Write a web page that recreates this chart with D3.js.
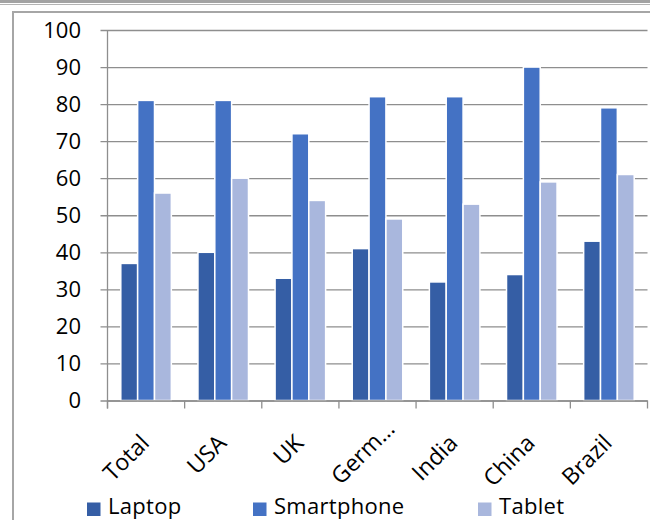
<!DOCTYPE html>
<html>
<head>
<meta charset="utf-8">
<script src="https://cdn.jsdelivr.net/npm/d3@7"></script>
<style>
  html, body { margin: 0; padding: 0; background: #fff; }
  svg { display: block; }
  text { font-family: "Open Sans", Lato, sans-serif; fill: #000; }
</style>
</head>
<body>
<svg id="chart" width="650" height="520"></svg>
<script>
const categories = ["Total", "USA", "UK", "Germ…", "India", "China", "Brazil"];
const seriesNames = ["Laptop", "Smartphone", "Tablet"];
const laptop = [37, 40, 33, 41, 32, 34, 43];
const smartphone = [81, 81, 72, 82, 82, 90, 79];
const tablet = [56, 60, 54, 49, 53, 59, 61];
const yTicks = [0, 10, 20, 30, 40, 50, 60, 70, 80, 90, 100];
const colors = ["#355EA5", "#4472C4", "#A9B7DD"];

const seriesValues = [laptop, smartphone, tablet];
const rows = categories.map((c, i) => ({ cat: c, vals: seriesValues.map(s => s[i]) }));

const svg = d3.select("#chart");

// window frame decorations
svg.append("rect").attr("x", 0).attr("y", 0).attr("width", 650).attr("height", 3).attr("fill", "#a3a3a3");
svg.append("line").attr("x1", 0).attr("x2", 650).attr("y1", 4.5).attr("y2", 4.5).attr("stroke", "#b4b4b4").attr("stroke-width", 1);
svg.append("path").attr("d", "M13,522 V12 H652").attr("fill", "none").attr("stroke", "#a6a6a6").attr("stroke-width", 2);

const pLeft = 107.5, pRight = 647.5, pTop = 30, pBottom = 400.5;

const y = d3.scaleLinear().domain([0, 100]).range([pBottom, pTop]);
const x0 = d3.scaleBand().domain(categories).range([pLeft, pRight]).paddingInner(0).paddingOuter(0);
const groupPad = 13.3;
const x1 = d3.scaleBand().domain(seriesNames).range([groupPad, x0.bandwidth() - groupPad]).padding(0);

// gridlines with outward ticks
const yAxis = d3.axisLeft(y).tickValues(yTicks).tickSize(-(pRight - pLeft)).tickSizeOuter(0).tickPadding(0).tickFormat("");
const gy = svg.append("g").attr("transform", `translate(${pLeft},0)`).call(yAxis);
gy.select(".domain").remove();
gy.selectAll(".tick line").attr("stroke", "#8e8e8e").attr("stroke-width", 1.3).attr("x1", -7);

// y labels
svg.append("g").selectAll("text").data(yTicks).join("text")
  .attr("x", 81).attr("y", d => y(d)).attr("dy", "0.36em")
  .attr("text-anchor", "end").style("font-size", "22px").text(d => d);

// bars
const groups = svg.append("g").selectAll("g").data(rows).join("g")
  .attr("transform", d => `translate(${x0(d.cat)},0)`);
groups.selectAll("rect").data(d => d.vals.map((v, i) => ({ v, s: seriesNames[i], i })))
  .join("rect")
  .attr("x", d => x1(d.s))
  .attr("width", x1.bandwidth())
  .attr("y", d => y(d.v))
  .attr("height", d => y(0) - y(d.v))
  .attr("fill", d => colors[d.i])
  .attr("stroke", "#fff").attr("stroke-width", 1.5);

// x axis
const xAxis = d3.axisBottom(x0).tickSize(0).tickFormat("");
const gx = svg.append("g").attr("transform", `translate(0,${pBottom})`).call(xAxis);
gx.select(".domain").attr("stroke", "#8e8e8e").attr("stroke-width", 1.3).attr("d", `M${pLeft},0.5H${pRight}`);
const boundaries = categories.map(c => x0(c)).concat([pRight]);
gx.selectAll(".bnd").data(boundaries).join("line").attr("class", "bnd")
  .attr("x1", d => d).attr("x2", d => d).attr("y1", 0).attr("y2", 8)
  .attr("stroke", "#8e8e8e").attr("stroke-width", 1.3);
// y axis line
svg.append("line").attr("x1", pLeft).attr("x2", pLeft).attr("y1", pTop).attr("y2", pBottom + 8)
  .attr("stroke", "#8e8e8e").attr("stroke-width", 1.3);

// rotated x labels (truncated labels sit a little further along their baseline)
svg.append("g").selectAll("text").data(categories).join("text")
  .attr("transform", d => `translate(${x0(d) + x0.bandwidth() / 2 + 4.5},${pBottom + 44}) rotate(-45)`)
  .attr("x", d => d.endsWith("…") ? 20 : 0)
  .attr("text-anchor", "end")
  .style("font-size", "23px").text(d => d);

// legend
const legendX = [87, 253, 478];
const lg = svg.append("g").selectAll("g").data(seriesNames).join("g")
  .attr("transform", (d, i) => `translate(${legendX[i]},502.5)`);
lg.append("rect").attr("width", 13.5).attr("height", 13.5).attr("fill", (d, i) => colors[i]);
lg.append("text").attr("x", 21).attr("y", 11.5).style("font-size", "22px").style("letter-spacing", "0.3px").text(d => d);
</script>
</body>
</html>
